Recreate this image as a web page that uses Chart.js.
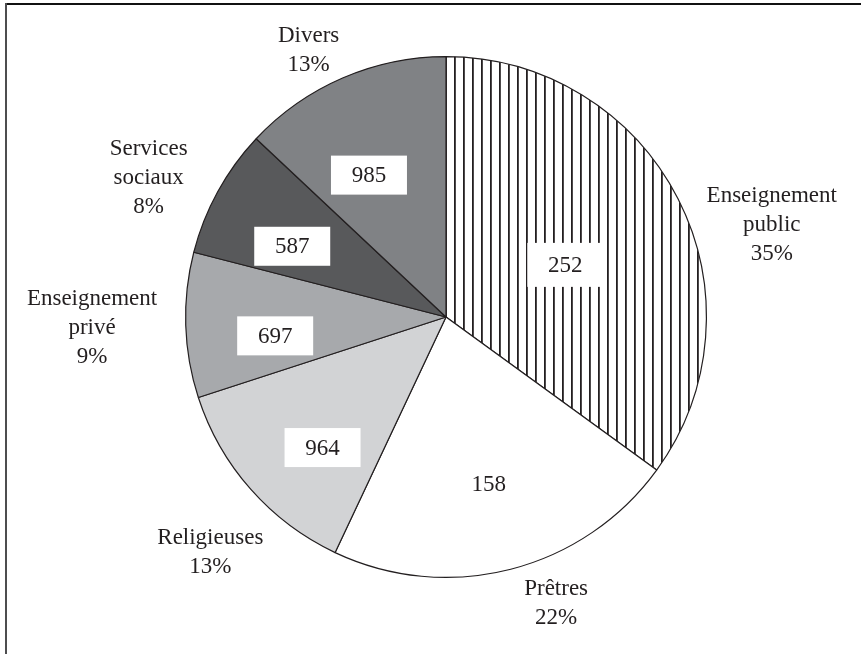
<!DOCTYPE html>
<html>
<head>
<meta charset="utf-8">
<script src="https://cdn.jsdelivr.net/npm/chart.js@4.4.1/dist/chart.umd.min.js"></script>
<style>
  html, body { margin: 0; padding: 0; background: #fff; }
  #wrap { width: 861px; height: 654px; position: relative; }
</style>
</head>
<body>
<div id="wrap"><canvas id="pie" width="861" height="654"></canvas></div>
<script>
// Données (sens horaire depuis midi)
const categories = ['Enseignement\npublic', 'Prêtres', 'Religieuses', 'Enseignement\nprivé', 'Services\nsociaux', 'Divers'];
const percents = [35, 22, 13, 9, 8, 13];
const counts = ['252', '158', '964', '697', '587', '985'];

// Couleurs des parts
const ink = '#231f20';
const greys = [null, '#ffffff', '#d2d3d5', '#a7a9ac', '#58595b', '#808285'];

// Hachures verticales pour l'enseignement public
function hatch() {
  const c = document.createElement('canvas');
  c.width = 9; c.height = 9;
  const g = c.getContext('2d');
  g.fillStyle = '#fff';
  g.fillRect(0, 0, 9, 9);
  g.fillStyle = ink;
  g.fillRect(4, 0, 1.8, 9);
  return g.createPattern(c, 'repeat');
}

// Placement des étiquettes : décalage angulaire (deg) et distance (x rayon)
const outerShift = [11.2, -6.6, -3.6, 0, -3.8, -3.9];
const outerDist = [1.30, 1.18, 1.28, 1.36, 1.26, 1.15];
const innerShift = [3.4, 0, -5.2, -4.5, -4.1, -5.1];
const innerDist = [0.50, 0.66, 0.69, 0.66, 0.65, 0.62];

const FONT = '23px "Liberation Serif", "DejaVu Serif", serif';
const LINE_H = 29;

const labelsPlugin = {
  id: 'labels',
  beforeDraw(chart) {
    const ctx = chart.ctx;
    ctx.save();
    ctx.fillStyle = '#111';
    ctx.fillRect(5, 3, 856, 2);
    ctx.fillStyle = '#4d4d4f';
    ctx.fillRect(5, 3, 2, 651);
    ctx.restore();
  },
  afterDatasetsDraw(chart) {
    const ctx = chart.ctx;
    const meta = chart.getDatasetMeta(0);
    ctx.save();
    ctx.font = FONT;
    ctx.textAlign = 'center';
    ctx.textBaseline = 'middle';
    meta.data.forEach((arc, i) => {
      const { x, y, startAngle, endAngle, outerRadius } = arc.getProps(['x', 'y', 'startAngle', 'endAngle', 'outerRadius'], true);
      const mid = (startAngle + endAngle) / 2;

      // valeur dans un cadre blanc
      const ai = mid + innerShift[i] * Math.PI / 180;
      const ix = x + Math.cos(ai) * outerRadius * innerDist[i];
      const iy = y + Math.sin(ai) * outerRadius * innerDist[i];
      const bw = 76, bh = i === 0 ? 44 : 39;
      ctx.fillStyle = '#fff';
      ctx.fillRect(ix - bw / 2, iy - bh / 2, bw, bh);
      ctx.fillStyle = ink;
      ctx.fillText(counts[i], ix, iy + 1);

      // libellé + pourcentage à l'extérieur
      const ao = mid + outerShift[i] * Math.PI / 180;
      const ox = x + Math.cos(ao) * outerRadius * outerDist[i];
      const oy = y + Math.sin(ao) * outerRadius * outerDist[i];
      const lines = categories[i].split('\n').concat([percents[i] + '%']);
      const top = oy - (lines.length - 1) * LINE_H / 2;
      lines.forEach((t, k) => ctx.fillText(t, ox, top + k * LINE_H));
    });
    ctx.restore();
  }
};

new Chart(document.getElementById('pie'), {
  type: 'pie',
  data: {
    labels: categories,
    datasets: [{
      data: percents,
      backgroundColor: greys.map((c, i) => i === 0 ? hatch() : c),
      borderColor: ink,
      borderWidth: 1.2,
    }],
  },
  options: {
    responsive: false,
    animation: false,
    events: [],
    layout: { padding: { left: 185, right: 154, top: 56, bottom: 76 } },
    plugins: {
      legend: { display: false },
      tooltip: { enabled: false },
    },
  },
  plugins: [labelsPlugin],
});
</script>
</body>
</html>
